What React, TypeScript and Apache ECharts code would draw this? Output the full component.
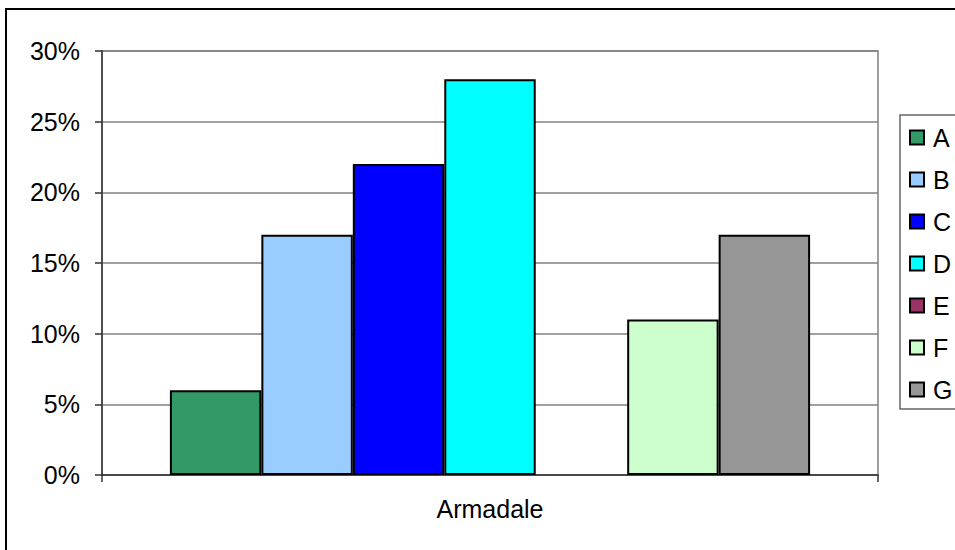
import React, { useEffect, useRef } from "react";
import * as echarts from "echarts";

const categories = ["Armadale"];
const seriesNames = ["A", "B", "C", "D", "E", "F", "G"];
// share (%) for each group; E has no value
const seriesValues: (number | null)[] = [6, 17, 22, 28, null, 11, 17];
const seriesColors = ["#339966", "#99CCFF", "#0000FF", "#00FFFF", "#993366", "#CCFFCC", "#969696"];
const yTicks = { min: 0, max: 30, step: 5 };

const FONT = "'Liberation Sans', Arial, sans-serif";
const FS = 25;

export default function App() {
  const ref = useRef<HTMLDivElement>(null);

  useEffect(() => {
    if (!ref.current) return;
    const chart = echarts.init(ref.current, undefined, { renderer: "svg" });

    const series = seriesNames.map((name, i) => ({
      name,
      type: "bar" as const,
      data: [seriesValues[i] === null ? "-" : seriesValues[i]],
      barGap: "0%",
      barCategoryGap: "17.5%",
      itemStyle: { color: seriesColors[i], borderColor: "#000", borderWidth: 2 },
    }));

    chart.setOption({
      animation: false,
      backgroundColor: "#fff",
      textStyle: { fontFamily: FONT },
      graphic: [
        {
          type: "rect",
          shape: { x: 6, y: 9, width: 1000, height: 600 },
          style: { fill: "none", stroke: "#000", lineWidth: 2 },
          silent: true,
          z: 100,
        },
      ],
      grid: {
        left: 102,
        right: 77,
        top: 51,
        bottom: 75,
        show: true,
        borderColor: "#808080",
        borderWidth: 1.5,
        backgroundColor: "transparent",
      },
      legend: {
        orient: "vertical",
        left: 900,
        top: 115,
        padding: [10, 60, 7, 9],
        borderColor: "#666",
        borderWidth: 1.5,
        itemWidth: 14,
        itemHeight: 14,
        itemGap: 17,
        icon: "rect",
        textStyle: { fontFamily: FONT, fontSize: FS, color: "#000", padding: [0, 0, 0, 4] },
        data: seriesNames,
      },
      xAxis: {
        type: "category",
        data: categories,
        axisLine: { lineStyle: { color: "#333", width: 1.5 } },
        axisTick: { show: true, length: 7, lineStyle: { color: "#333", width: 1.5 } },
        axisLabel: { fontFamily: FONT, fontSize: FS, color: "#000", margin: 21 },
        splitLine: { show: false },
      },
      yAxis: {
        type: "value",
        min: yTicks.min,
        max: yTicks.max,
        interval: yTicks.step,
        axisLine: { show: true, lineStyle: { color: "#333", width: 1.5 } },
        axisTick: { show: true, length: 7, lineStyle: { color: "#333", width: 1.5 } },
        axisLabel: { fontFamily: FONT, fontSize: FS, color: "#000", margin: 22, formatter: "{value}%" },
        splitLine: { show: true, lineStyle: { color: "#808080", width: 1.5 } },
      },
      series,
    });

    return () => chart.dispose();
  }, []);

  return (
    <div
      ref={ref}
      style={{ position: "fixed", left: 0, top: 0, width: 955, height: 550, background: "#fff" }}
    />
  );
}
